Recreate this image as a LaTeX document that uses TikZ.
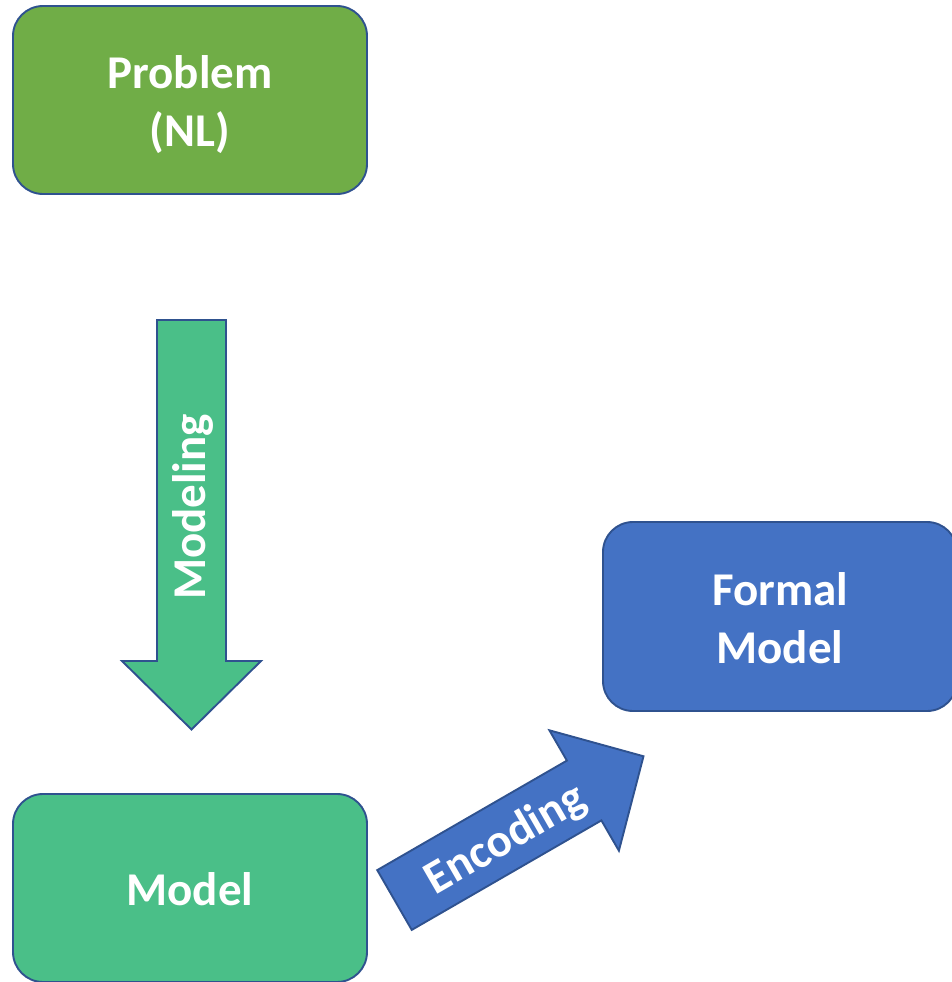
\documentclass[tikz,border=0pt]{standalone}
\usepackage{fontspec}
\setmainfont{Carlito}
\begin{document}
\begin{tikzpicture}[x=1pt,y=-1pt,
  edgeblue/.style={draw=bordercol, line width=1.9pt, line join=miter},
  procbox/.style={edgeblue, rounded corners=30pt},
  lbl/.style={text=white, font=\bfseries\fontsize{47}{58}\selectfont, align=center, inner sep=0pt}]
\definecolor{bordercol}{HTML}{2F528F}
\definecolor{probgreen}{HTML}{70AD47}
\definecolor{modgreen}{HTML}{4ABF88}
\definecolor{formblue}{HTML}{4472C4}
\useasboundingbox (0,0) rectangle (952,982);
\clip (0,0) rectangle (952,982);

% boxes
\draw[procbox, fill=probgreen] (13,6) rectangle (367,194);
\node[lbl] (problem) at (190,105) {Problem\\(NL)};

\draw[procbox, fill=modgreen] (13,794) rectangle (367,982);
\node[lbl] (model) at (190,889) {Model};

\draw[procbox, fill=formblue] (603,522) rectangle (957,711);
\node[lbl] (formal) at (780,618) {Formal\\Model};

% Modeling block arrow (pointing down)
\draw[edgeblue, fill=modgreen]
  (157,320) -- (226,320) -- (226,661) -- (261,661) -- (191.5,729.5)
  -- (122,661) -- (157,661) -- cycle;
\node[lbl, rotate=90] (modeling) at (193,507) {Modeling};

% Encoding block arrow (rising at 30 degrees)
\draw[edgeblue, fill=formblue]
  (377.25,870.1) -- (566.9,760.6) -- (549.4,730.3) -- (643.5,756.25)
  -- (618.9,850.7) -- (601.4,820.4) -- (411.75,929.9) -- cycle;
\node[lbl, rotate=30] (encoding) at (506,840) {Encoding};
\end{tikzpicture}
\end{document}
